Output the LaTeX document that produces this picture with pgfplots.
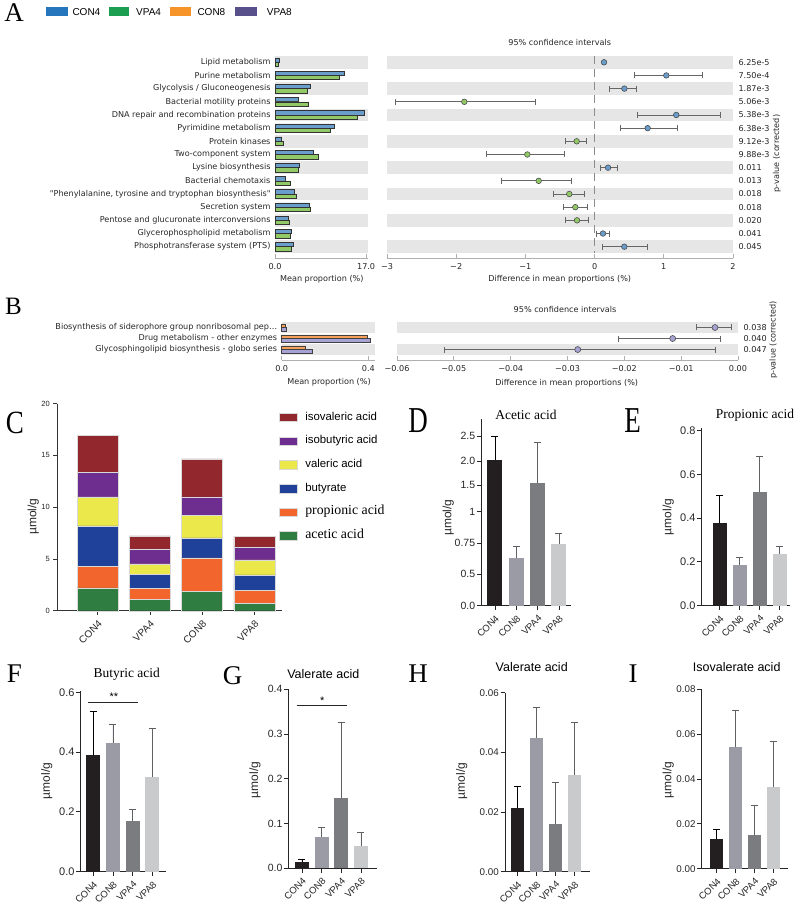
\documentclass[border=0pt]{standalone}
\usepackage{fontspec}
\setmainfont{Liberation Sans}
\newfontfamily\dv{DejaVu Sans}
\newfontfamily\tms{Liberation Serif}
\usepackage{graphicx}
\usepackage{pgfplots}
\pgfplotsset{compat=1.18}
\definecolor{lgCON4}{RGB}{37,118,188}
\definecolor{lgVPA4}{RGB}{27,158,80}
\definecolor{lgCON8}{RGB}{246,148,42}
\definecolor{lgVPA8}{RGB}{88,80,138}
\definecolor{aBlue}{RGB}{104,157,204}
\definecolor{aGreen}{RGB}{146,201,103}
\definecolor{bOrange}{RGB}{245,160,90}
\definecolor{bPurple}{RGB}{166,162,212}
\definecolor{band}{RGB}{230,230,230}
\definecolor{spine}{RGB}{175,175,175}
\definecolor{cIsoval}{RGB}{146,40,46}
\definecolor{cIsobut}{RGB}{109,46,144}
\definecolor{cVal}{RGB}{235,232,76}
\definecolor{cBut}{RGB}{31,65,153}
\definecolor{cProp}{RGB}{242,101,45}
\definecolor{cAcet}{RGB}{47,125,65}
\definecolor{gCON4}{RGB}{35,31,32}
\definecolor{gCON8}{RGB}{155,155,165}
\definecolor{gVPA4}{RGB}{123,124,128}
\definecolor{gVPA8}{RGB}{201,202,204}
\definecolor{eGrey}{RGB}{95,95,100}
\pgfplotsset{
  stampL/.style={scale only axis, anchor=south west, clip=false, scaled ticks=false,
    axis x line=bottom, axis y line=left,
    axis line style={-}, x axis line style={draw=spine, line width=0.9pt}, y axis line style={draw=none},
    tick align=inside, major tick length=4pt,
    xtick style={draw=spine, line width=0.9pt}, ytick style={draw=none},
    ticklabel style={font=\dv\fontsize{8.1}{9.5}\selectfont, text=black!85},
    xticklabel style={yshift=-1.5pt},
  },
  stampR/.style={stampL, axis y line=right},
  gp/.style={scale only axis, anchor=south west, clip=false, scaled ticks=false,
    axis x line=bottom, axis y line=left, axis line style={-, draw=black!85, line width=0.9pt},
    tick align=outside, major tick length=4.5pt, tick style={draw=black!85, line width=0.9pt},
    xtick={1,2,3,4}, xticklabels={CON4,CON8,VPA4,VPA8},
    xticklabel style={yshift=-2pt, rotate=45, anchor=north east, font=\fontsize{9.5}{11}\selectfont, text=black!85, inner sep=1.5pt},
    yticklabel style={text=black!85, inner sep=1.5pt},
  },
  gpbar/.style n args={3}{ybar, bar width=#1, bar shift=0pt, fill=#2, draw=none,
    error bars/.cd, y dir=plus, y explicit,
    error bar style={draw=#3, line width=0.9pt},
    error mark options={rotate=90, draw=#3, line width=0.9pt, mark size=3.5pt}},
  ptmark/.style 2 args={only marks, mark=*, mark size=#2, mark options={fill=#1, draw=black!70, line width=0.6pt},
    error bars/.cd, x dir=both, x explicit,
    error bar style={draw=black!60, line width=0.8pt},
    error mark options={rotate=90, draw=black!60, mark size=3pt, line width=0.8pt}},
}
\begin{document}
\begin{tikzpicture}[x=1pt,y=1pt]
\path[use as bounding box] (0,0) rectangle (800,907);

% ---------- top legend ----------
\begin{scope}[font=\fontsize{10}{12}\selectfont]
\fill[lgCON4] (46,891) rectangle (67.7,899.7);
\node[anchor=west, inner sep=0pt] at (72.3,895.3) {CON4};
\fill[lgVPA4] (108.7,891) rectangle (129.3,899.7);
\node[anchor=west, inner sep=0pt] at (136,895.3) {VPA4};
\fill[lgCON8] (170,891) rectangle (191.3,899.7);
\node[anchor=west, inner sep=0pt] at (197.3,895.3) {CON8};
\fill[lgVPA8] (235.3,891) rectangle (256.7,899.7);
\node[anchor=west, inner sep=0pt] at (266.7,895.3) {VPA8};
\end{scope}

% ---------- Panel A left ----------
\begin{axis}[stampL, at={(275pt,648.7pt)}, width=93pt, height=202.6pt,
  xmin=0, xmax=17.35, ymin=-15.88, ymax=-0.5,
  xtick={0,17}, xticklabels={0.0,17.0},
  ytick={-1,-2,-3,-4,-5,-6,-7,-8,-9,-10,-11,-12,-13,-14,-15},
  yticklabels={Lipid metabolism, Purine metabolism, Glycolysis / Gluconeogenesis, Bacterial motility proteins,
    DNA repair and recombination proteins, Pyrimidine metabolism, Protein kinases, Two-component system,
    Lysine biosynthesis, Bacterial chemotaxis, {"Phenylalanine, tyrosine and tryptophan biosynthesis"},
    Secretion system, Pentose and glucuronate interconversions, Glycerophospholipid metabolism,
    Phosphotransferase system (PTS)},
  yticklabel style={xshift=-1pt}]
\fill[band] (axis cs:0,-1.49) rectangle (axis cs:17.35,-0.51);
\fill[band] (axis cs:0,-3.49) rectangle (axis cs:17.35,-2.51);
\fill[band] (axis cs:0,-5.49) rectangle (axis cs:17.35,-4.51);
\fill[band] (axis cs:0,-7.49) rectangle (axis cs:17.35,-6.51);
\fill[band] (axis cs:0,-9.49) rectangle (axis cs:17.35,-8.51);
\fill[band] (axis cs:0,-11.49) rectangle (axis cs:17.35,-10.51);
\fill[band] (axis cs:0,-13.49) rectangle (axis cs:17.35,-12.51);
\fill[band] (axis cs:0,-15.49) rectangle (axis cs:17.35,-14.51);
\addplot[xbar, bar width=4.3pt, bar shift=0pt, fill=aBlue, draw=black!80, line width=0.6pt] coordinates {
(0.8,-0.835) (13.0,-1.835) (6.5,-2.835) (4.4,-3.835) (16.6,-4.835) (11.0,-5.835) (1.24,-6.835) (7.1,-7.835)
(4.5,-8.835) (2.0,-9.835) (3.6,-10.835) (6.4,-11.835) (2.4,-12.835) (3.0,-13.835) (3.5,-14.835)};
\addplot[xbar, bar width=4.3pt, bar shift=0pt, fill=aGreen, draw=black!80, line width=0.6pt] coordinates {
(0.7,-1.165) (12.0,-2.165) (6.0,-3.165) (6.2,-4.165) (15.35,-5.165) (10.3,-6.165) (1.55,-7.165) (8.0,-8.165)
(4.3,-9.165) (2.8,-10.165) (3.96,-11.165) (6.6,-12.165) (2.66,-13.165) (2.85,-14.165) (3.0,-15.165)};
\end{axis}

% ---------- Panel A right ----------
\begin{axis}[stampR, at={(387pt,648.7pt)}, width=346pt, height=202.6pt,
  xmin=-3, xmax=2, ymin=-15.88, ymax=-0.5,
  xtick={-3,-2,-1,0,1,2}, xticklabels={−3,−2,−1,0,1,2},
  ytick={-1,-2,-3,-4,-5,-6,-7,-8,-9,-10,-11,-12,-13,-14,-15},
  yticklabels={6.25e-5,7.50e-4,1.87e-3,5.06e-3,5.38e-3,6.38e-3,9.12e-3,9.88e-3,0.011,0.013,0.018,0.018,0.020,0.041,0.045}]
\fill[band] (axis cs:-3,-1.49) rectangle (axis cs:2,-0.51);
\fill[band] (axis cs:-3,-3.49) rectangle (axis cs:2,-2.51);
\fill[band] (axis cs:-3,-5.49) rectangle (axis cs:2,-4.51);
\fill[band] (axis cs:-3,-7.49) rectangle (axis cs:2,-6.51);
\fill[band] (axis cs:-3,-9.49) rectangle (axis cs:2,-8.51);
\fill[band] (axis cs:-3,-11.49) rectangle (axis cs:2,-10.51);
\fill[band] (axis cs:-3,-13.49) rectangle (axis cs:2,-12.51);
\fill[band] (axis cs:-3,-15.49) rectangle (axis cs:2,-14.51);
\draw[black!45, line width=0.8pt, dash pattern=on 8pt off 5pt] (axis cs:0,-0.5) -- (axis cs:0,-15.5);
\addplot[only marks, mark=*, mark size=2.8pt, mark options={fill=aBlue, draw=black!70, line width=0.6pt}] coordinates {(0.136,-1)};
\addplot[ptmark={aBlue}{2.8pt}] coordinates {
(1.036,-2) -= (0.466,0) += (0.521,0)
(0.43,-3) -= (0.212,0) += (0.178,0)
(1.18,-5) -= (0.563,0) += (0.637,0)
(0.767,-6) -= (0.395,0) += (0.433,0)
(0.194,-9) -= (0.106,0) += (0.134,0)
(0.121,-14) -= (0.101,0) += (0.097,0)
(0.429,-15) -= (0.312,0) += (0.338,0)};
\addplot[ptmark={aGreen}{2.8pt}] coordinates {
(-1.883,-4) -= (0.991,0) += (1.026,0)
(-0.259,-7) -= (0.159,0) += (0.135,0)
(-0.972,-8) -= (0.593,0) += (0.534,0)
(-0.808,-10) -= (0.535,0) += (0.471,0)
(-0.366,-11) -= (0.231,0) += (0.223,0)
(-0.279,-12) -= (0.173,0) += (0.174,0)
(-0.254,-13) -= (0.164,0) += (0.169,0)};
\end{axis}

% ---------- Panel B left ----------
\begin{axis}[stampL, at={(281.7pt,547pt)}, width=93.3pt, height=38pt,
  xmin=0, xmax=0.431, ymin=-3.95, ymax=-0.5,
  xtick={0,0.4}, xticklabels={0.0,0.4},
  ytick={-1,-2,-3},
  yticklabels={{Biosynthesis of siderophore group nonribosomal pep\ldots}, {Drug metabolism - other enzymes}, {Glycosphingolipid biosynthesis - globo series}},
  yticklabel style={xshift=-1pt}]
\fill[band] (axis cs:0,-1.46) rectangle (axis cs:0.431,-0.54);
\fill[band] (axis cs:0,-3.46) rectangle (axis cs:0.431,-2.54);
\addplot[xbar, bar width=3.6pt, bar shift=0pt, fill=bOrange, draw=black!75, line width=0.5pt] coordinates {(0.0185,-0.835) (0.395,-1.835) (0.111,-2.835)};
\addplot[xbar, bar width=3.6pt, bar shift=0pt, fill=bPurple, draw=black!75, line width=0.5pt] coordinates {(0.023,-1.165) (0.409,-2.165) (0.143,-3.165)};
\end{axis}

% ---------- Panel B right ----------
\begin{axis}[stampR, at={(397pt,547pt)}, width=341pt, height=38pt,
  xmin=-0.06, xmax=0, ymin=-3.95, ymax=-0.5,
  xtick={-0.06,-0.05,-0.04,-0.03,-0.02,-0.01,0}, xticklabels={−0.06,−0.05,−0.04,−0.03,−0.02,−0.01,0.00},
  ytick={-1,-2,-3}, yticklabels={0.038,0.040,0.047}]
\fill[band] (axis cs:-0.06,-1.46) rectangle (axis cs:0,-0.54);
\fill[band] (axis cs:-0.06,-3.46) rectangle (axis cs:0,-2.54);
\addplot[ptmark={bPurple}{3pt}] coordinates {
(-0.00405,-1) -= (0.00335,0) += (0.00295,0)
(-0.0115,-2) -= (0.0096,0) += (0.0084,0)
(-0.0282,-3) -= (0.0235,0) += (0.0243,0)};
\end{axis}

% STAMP texts
\begin{scope}[font=\dv\fontsize{8.1}{9.5}\selectfont, text=black!85]
\node at (559.7,865) {95\% confidence intervals};
\node at (321.8,628) {Mean proportion (\%)};
\node at (559.7,628) {Difference in mean proportions (\%)};
\node[rotate=90] at (777,753.5) {p-value (corrected)};
\node at (565,597.7) {95\% confidence intervals};
\node at (329,524.3) {Mean proportion (\%)};
\node at (566.7,523.7) {Difference in mean proportions (\%)};
\node[rotate=90] at (773.3,567) {p-value (corrected)};
\end{scope}

% ---------- Panel C ----------
\begin{axis}[scale only axis, anchor=south west, at={(57.3pt,296.3pt)}, width=224.4pt, height=207pt, clip=false,
  ybar stacked, bar width=41pt, scaled ticks=false,
  xmin=-0.774, xmax=3.525, ymin=0, ymax=20,
  axis x line=bottom, axis y line=left, axis line style={-, draw=black!80, line width=0.8pt},
  tick align=outside, major tick length=4pt, tick style={draw=black!80, line width=0.8pt},
  xtick={0,1,2,3}, xticklabels={CON4,VPA4,CON8,VPA8},
  xticklabel style={yshift=-2.5pt, rotate=45, anchor=north east, font=\fontsize{10}{12}\selectfont, text=black!85, inner sep=1.5pt},
  ytick={0,5,10,15,20}, yticklabels={0,5,10,15,20},
  yticklabel style={font=\fontsize{7.5}{9}\selectfont, text=black!85},
  reverse legend, legend cell align=left,
  legend image code/.code={\fill[#1] (0pt,-4.3pt) rectangle (18pt,4.3pt);},
  legend style={draw=none, fill=none, at={(0.988,0.959)}, anchor=north west, inner sep=0pt, outer sep=0pt,
    row sep=13.4pt, font=\fontsize{11.4}{13}\selectfont,
    nodes={inner sep=0pt, text height=8pt, text depth=2.3pt},
    /tikz/every odd column/.append style={column sep=8pt}},
]
\addplot[fill=cAcet, draw=white!85!black, line width=0.3pt] coordinates {(0,2.2) (1,1.1) (2,1.9) (3,0.72)};
\addlegendentry{{\tms\fontsize{13.8}{15}\selectfont acetic acid}}
\addplot[fill=cProp, draw=white!85!black, line width=0.3pt] coordinates {(0,2.1) (1,1.07) (2,3.2) (3,1.25)};
\addlegendentry{{\tms\fontsize{13.8}{15}\selectfont propionic acid}}
\addplot[fill=cBut, draw=white!85!black, line width=0.3pt] coordinates {(0,3.9) (1,1.35) (2,1.94) (3,1.48)};
\addlegendentry{butyrate}
\addplot[fill=cVal, draw=white!85!black, line width=0.3pt] coordinates {(0,2.8) (1,1.0) (2,2.19) (3,1.45)};
\addlegendentry{valeric acid}
\addplot[fill=cIsobut, draw=white!85!black, line width=0.3pt] coordinates {(0,2.4) (1,1.45) (2,1.77) (3,1.27)};
\addlegendentry{isobutyric acid}
\addplot[fill=cIsoval, draw=white!85!black, line width=0.3pt] coordinates {(0,3.55) (1,1.26) (2,3.66) (3,1.03)};
\addlegendentry{isovaleric acid}
\end{axis}

% ---------- Panel D ----------
\begin{axis}[gp, at={(481.3pt,301.3pt)}, width=89.4pt, height=186.7pt,
  xmin=0.358, xmax=4.55, ymin=0, ymax=2.85,
  y coord trafo/.code={\pgfmathparse{ifthenelse(#1<0.5, 62.8*#1, ifthenelse(#1<0.75, 31.4+124*(#1-0.5), ifthenelse(#1<1, 62.4+126.4*(#1-0.75), ifthenelse(#1<1.5, 94+53.4*(#1-1), ifthenelse(#1<2, 120.7+48*(#1-1.5), 144.7+49.4*(#1-2))))))}},
  ytick={0,0.5,0.75,1,1.5,2,2.5}, yticklabels={0.0,0.5,0.75,1,1.5,2.0,2.5},
  yticklabel style={font=\fontsize{10.5}{12}\selectfont}]
\addplot[ybar, bar width=15pt, bar shift=0pt, fill=gCON4, draw=none] coordinates {(1,2.02)};
\addplot[ybar, bar width=15pt, bar shift=0pt, fill=gCON8, draw=none] coordinates {(2,0.634)};
\addplot[ybar, bar width=15pt, bar shift=0pt, fill=gVPA4, draw=none] coordinates {(3,1.535)};
\addplot[ybar, bar width=15pt, bar shift=0pt, fill=gVPA8, draw=none] coordinates {(4,0.742)};
\addplot[draw=black, line width=0.9pt, mark=-, mark size=3.5pt, mark indices={2}] coordinates {(1,2.02) (1,2.5)};
\addplot[draw=eGrey, line width=0.9pt, mark=-, mark size=3.5pt, mark indices={2}] coordinates {(2,0.634) (2,0.723)};
\addplot[draw=eGrey, line width=0.9pt, mark=-, mark size=3.5pt, mark indices={2}] coordinates {(3,1.535) (3,2.37)};
\addplot[draw=eGrey, line width=0.9pt, mark=-, mark size=3.5pt, mark indices={2}] coordinates {(4,0.742) (4,0.83)};
\end{axis}

% ---------- Panel E ----------
\begin{axis}[gp, at={(701.7pt,301.3pt)}, width=88.3pt, height=177.8pt,
  xmin=0.1, xmax=4.515, ymin=0, ymax=0.812,
  ytick={0,0.2,0.4,0.6,0.8}, yticklabels={0.0,0.2,0.4,0.6,0.8},
  yticklabel style={font=\fontsize{11}{12}\selectfont}]
\addplot[gpbar={14pt}{gCON4}{black}] coordinates {(1,0.379) +- (0,0.125)};
\addplot[gpbar={14pt}{gCON8}{eGrey}] coordinates {(2,0.186) +- (0,0.036)};
\addplot[gpbar={14pt}{gVPA4}{eGrey}] coordinates {(3,0.52) +- (0,0.163)};
\addplot[gpbar={14pt}{gVPA8}{eGrey}] coordinates {(4,0.236) +- (0,0.036)};
\end{axis}

% ---------- Panel F ----------
\begin{axis}[gp, at={(80.7pt,35.3pt)}, width=85.2pt, height=180.9pt,
  xmin=0.367, xmax=4.68, ymin=0, ymax=0.605,
  ytick={0,0.2,0.4,0.6}, yticklabels={0.0,0.2,0.4,0.6},
  yticklabel style={font=\fontsize{11}{12}\selectfont}]
\addplot[gpbar={14pt}{gCON4}{black}] coordinates {(1,0.39) +- (0,0.145)};
\addplot[gpbar={14pt}{gCON8}{eGrey}] coordinates {(2,0.429) +- (0,0.065)};
\addplot[gpbar={14pt}{gVPA4}{eGrey}] coordinates {(3,0.171) +- (0,0.036)};
\addplot[gpbar={14pt}{gVPA8}{eGrey}] coordinates {(4,0.318) +- (0,0.16)};
\draw[black!85, line width=0.8pt] (axis cs:0.75,0.567) -- (axis cs:3.26,0.567);
\node[anchor=south, inner sep=1pt, font=\fontsize{11}{12}\selectfont] at (axis cs:2.05,0.567) {**};
\end{axis}

% ---------- Panel G ----------
\begin{axis}[gp, at={(288.7pt,38.7pt)}, width=88pt, height=179pt,
  xmin=0.324, xmax=4.8, ymin=0, ymax=0.4,
  ytick={0,0.1,0.2,0.3,0.4}, yticklabels={0.0,0.1,0.2,0.3,0.4},
  yticklabel style={font=\fontsize{10.5}{12}\selectfont}]
\addplot[gpbar={14pt}{gCON4}{black}] coordinates {(1,0.0149) +- (0,0.0051)};
\addplot[gpbar={14pt}{gCON8}{eGrey}] coordinates {(2,0.0707) +- (0,0.0209)};
\addplot[gpbar={14pt}{gVPA4}{eGrey}] coordinates {(3,0.156) +- (0,0.171)};
\addplot[gpbar={14pt}{gVPA8}{eGrey}] coordinates {(4,0.05) +- (0,0.0297)};
\draw[black!85, line width=0.8pt] (axis cs:0.73,0.364) -- (axis cs:3.27,0.364);
\node[anchor=south, inner sep=1pt, font=\fontsize{11}{12}\selectfont] at (axis cs:2.03,0.364) {*};
\end{axis}

% ---------- Panel H ----------
\begin{axis}[gp, at={(505pt,35.3pt)}, width=85pt, height=179pt,
  xmin=0.34, xmax=4.83, ymin=0, ymax=0.06,
  ytick={0,0.02,0.04,0.06}, yticklabels={0.00,0.02,0.04,0.06},
  yticklabel style={font=\fontsize{9.8}{11}\selectfont}]
\addplot[gpbar={13pt}{gCON4}{black}] coordinates {(1,0.0212) +- (0,0.0075)};
\addplot[gpbar={13pt}{gCON8}{eGrey}] coordinates {(2,0.0449) +- (0,0.0103)};
\addplot[gpbar={13pt}{gVPA4}{eGrey}] coordinates {(3,0.0161) +- (0,0.0138)};
\addplot[gpbar={13pt}{gVPA8}{eGrey}] coordinates {(4,0.0323) +- (0,0.0177)};
\end{axis}

% ---------- Panel I ----------
\begin{axis}[gp, at={(701.7pt,38.3pt)}, width=86.6pt, height=179.4pt,
  xmin=0.205, xmax=4.795, ymin=0, ymax=0.08,
  ytick={0,0.02,0.04,0.06,0.08}, yticklabels={0.00,0.02,0.04,0.06,0.08},
  yticklabel style={font=\fontsize{9.8}{11}\selectfont}]
\addplot[gpbar={13pt}{gCON4}{black}] coordinates {(1,0.0131) +- (0,0.0042)};
\addplot[gpbar={13pt}{gCON8}{eGrey}] coordinates {(2,0.0541) +- (0,0.0166)};
\addplot[gpbar={13pt}{gVPA4}{eGrey}] coordinates {(3,0.0149) +- (0,0.0131)};
\addplot[gpbar={13pt}{gVPA8}{eGrey}] coordinates {(4,0.0366) +- (0,0.02)};
\end{axis}

% ---------- titles, y labels, panel letters ----------
\begin{scope}[font=\tms\fontsize{13.5}{15}\selectfont]
\node at (526,492) {Acetic acid};
\node at (755,492) {Propionic acid};
\node at (126.7,232.7) {Butyric acid};
\end{scope}
\begin{scope}[font=\fontsize{12.5}{14}\selectfont]
\node at (323.3,232.7) {Valerate acid};
\node at (531.7,240.3) {Valerate acid};
\node at (736.7,240.3) {Isovalerate acid};
\end{scope}
\begin{scope}[font=\fontsize{12}{14}\selectfont, text=black!85]
\node[rotate=90] at (33.3,390.3) {µmol/g};
\node[rotate=90] at (448.3,389.5) {µmol/g};
\node[rotate=90] at (668.3,390) {µmol/g};
\node[rotate=90] at (46.7,126) {µmol/g};
\node[rotate=90] at (255,127) {µmol/g};
\node[rotate=90] at (461.7,126) {µmol/g};
\node[rotate=90] at (668.3,127) {µmol/g};
\end{scope}
\begin{scope}[font=\tms\fontsize{27}{30}\selectfont, inner sep=0pt]
\node at (14,894) {A};
\node at (13.5,600.5) {\fontsize{25}{28}\selectfont B};
\node at (15,484.5) {\scalebox{1}[1.2]{C}};
\node at (418,486.5) {\scalebox{1}[1.35]{D}};
\node at (632.5,486.5) {\scalebox{1}[1.35]{E}};
\node at (14.5,233) {F};
\node at (232.5,231) {G};
\node at (418,233) {H};
\node at (633,233) {I};
\end{scope}
\end{tikzpicture}
\end{document}
